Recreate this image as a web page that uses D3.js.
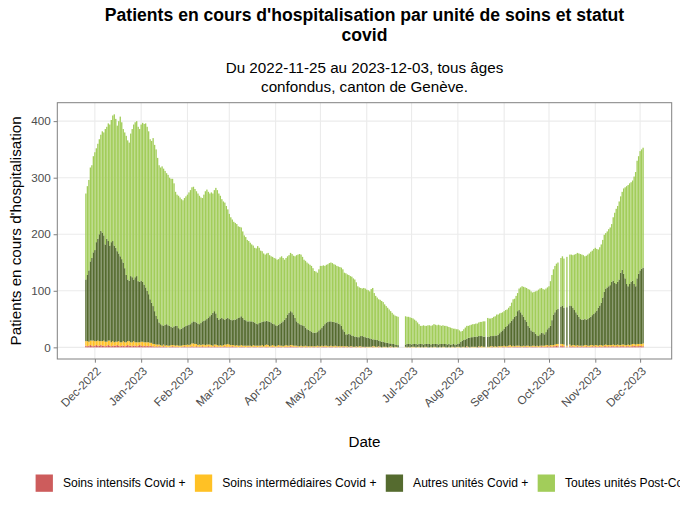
<!DOCTYPE html>
<html>
<head>
<meta charset="utf-8">
<script src="https://cdn.jsdelivr.net/npm/d3@7"></script>
<style>
  body { margin: 0; background: #fff; }
  svg { display: block; font-family: "Liberation Sans", Arial, Helvetica, sans-serif; }
</style>
</head>
<body>
<svg id="chart" width="680" height="510"></svg>
<script>
// one value per day from startDate to endDate, null = no data that day
const startDate = '2022-11-25';
const endDate = '2023-12-03';

const seriesNames = ['Soins intensifs Covid +', 'Soins intermédiaires Covid +', 'Autres unités Covid +', 'Toutes unités Post-Covid +'];
const seriesColors = ['#cd5c5c', '#ffc125', '#556b2f', '#a2cd5a'];

const xTickMonths = ['2022-12-01', '2023-01-01', '2023-02-01', '2023-03-01', '2023-04-01', '2023-05-01', '2023-06-01',
  '2023-07-01', '2023-08-01', '2023-09-01', '2023-10-01', '2023-11-01', '2023-12-01'];
const yTicks = [0, 100, 200, 300, 400];

const soinsIntensifs = [
  3, 2, 3, 4, 3, 2, 3, 4, 3, 3,
  4, 3, 3, 2, 3, 4, 3, 2, 3, 3,
  3, 4, 3, 2, 3, 3, 2, 3, 4, 3,
  3, 2, 3, 3, 2, 3, 4, 3, 2, 3,
  2, 3, 2, 3, 2, 2, 1, 2, 1, 2,
  1, 1, 2, 1, 1, 0, 1, 1, 2, 1,
  1, 1, 1, 0, 1, 1, 2, 1, 1, 1,
  1, 2, 1, 1, 2, 1, 1, 1, 2, 1,
  1, 1, 2, 1, 1, 1, 2, 1, 1, 1,
  1, 1, 1, 2, 1, 1, 1, 1, 2, 1,
  1, 1, 0, 1, 1, 1, 1, 0, 1, 1,
  1, 0, 1, 1, 1, 0, 1, 1, 1, 0,
  1, 1, 1, 0, 1, 1, 1, 0, 1, 1,
  1, 1, 0, 1, 1, 1, 1, 2, 1, 1,
  1, 1, 1, 0, 1, 1, 0, 1, 1, 0,
  1, 0, 1, 1, 0, 1, 1, 0, 1, 1,
  1, 1, 0, 1, 1, 1, 0, 1, 1, 0,
  1, 0, 1, 1, 0, 1, 0, 1, 1, 0,
  0, 1, 0, 0, 1, 0, 0, 1, 0, 0,
  0, 0, 1, 0, 0, 0, 1, 0, 0, 0,
  0, 0, 0, 0, 1, 0, 0, 0, 0, 0,
  null, null, null, null, 0, 0, 0, 0, 0, 0,
  0, 0, 0, 0, 0, 0, 0, 0, 0, 0,
  0, 0, 0, 0, 0, 0, 0, 0, 0, 0,
  0, 0, 0, 0, 0, 0, 0, 0, 0, 0,
  0, 0, 0, 0, 0, 1, 0, 0, 0, 0,
  0, 0, 0, 1, 0, 0, 0, 0, null, 0,
  0, 0, 1, 0, 0, 0, 1, 0, 0, 1,
  1, 0, 1, 1, 1, 0, 1, 1, 1, 1,
  1, 1, 0, 1, 1, 1, 1, 0, 1, 1,
  1, 1, 1, 0, 1, 2, 1, 1, 1, 2,
  1, 2, 1, 2, 2, 3, 2, null, 3, 2,
  2, null, 1, null, 2, 1, 2, 1, 1, 2,
  1, 1, 2, 1, 1, 2, 1, 1, 1, 2,
  1, 2, 1, 1, 2, 1, 1, 2, 2, 1,
  2, 1, 2, 2, 1, 2, 2, 1, 2, 2,
  2, 1, 2, 2, 1, 2, 2, 3, 2, 2,
  2, 3, 2, 2
];

const soinsIntermediaires = [
  8, 9, 7, 8, 9, 10, 8, 7, 9, 8,
  7, 8, 9, 8, 7, 8, 9, 7, 8, 6,
  7, 6, 8, 7, 6, 8, 7, 6, 7, 8,
  6, 7, 8, 6, 7, 6, 5, 7, 8, 6,
  7, 6, 7, 5, 6, 4, 5, 3, 4, 3,
  3, 2, 3, 2, 3, 3, 2, 3, 2, 3,
  2, 3, 2, 3, 2, 3, 2, 3, 4, 3,
  4, 5, 6, 5, 4, 3, 4, 3, 3, 4,
  3, 4, 3, 4, 3, 2, 3, 4, 3, 2,
  3, 2, 3, 3, 4, 5, 4, 3, 2, 3,
  2, 3, 3, 2, 3, 2, 2, 3, 2, 2,
  2, 2, 3, 2, 2, 3, 2, 2, 3, 2,
  3, 4, 3, 2, 2, 3, 2, 2, 2, 3,
  2, 2, 2, 2, 3, 2, 2, 2, 3, 2,
  2, 2, 1, 2, 2, 1, 2, 2, 1, 2,
  1, 2, 1, 1, 2, 2, 1, 2, 2, 1,
  2, 2, 2, 1, 2, 1, 2, 2, 1, 2,
  1, 2, 1, 1, 2, 1, 1, 1, 1, 1,
  1, 1, 1, 2, 1, 1, 1, 0, 1, 1,
  1, 1, 1, 2, 1, 1, 1, 1, 0, 1,
  1, 1, 0, 1, 1, 1, 0, 1, 1, 0,
  null, null, null, null, 1, 0, 1, 0, 1, 1,
  1, 0, 1, 1, 0, 1, 0, 1, 1, 0,
  0, 1, 0, 1, 1, 0, 0, 1, 0, 1,
  1, 0, 0, 1, 0, 1, 1, 0, 1, 1,
  1, 0, 1, 1, 0, 1, 1, 0, 1, 1,
  1, 1, 0, 1, 1, 2, 1, 1, null, 1,
  1, 2, 1, 1, 2, 1, 1, 2, 2, 1,
  2, 2, 1, 2, 3, 2, 2, 1, 2, 2,
  2, 1, 2, 2, 1, 2, 2, 2, 1, 2,
  2, 1, 2, 2, 2, 1, 2, 2, 3, 2,
  2, 2, 3, 2, 3, 3, 4, null, 3, 4,
  3, null, 2, null, 3, 2, 2, 3, 2, 2,
  2, 2, 1, 2, 3, 2, 2, 2, 3, 2,
  2, 2, 3, 2, 2, 3, 2, 2, 3, 3,
  2, 3, 2, 3, 3, 2, 3, 3, 2, 3,
  3, 3, 2, 3, 3, 3, 4, 3, 3, 4,
  4, 3, 4, 5
];

const autresUnites = [
  109, 117, 126, 140, 146, 156, 161, 175, 180, 189,
  195, 192, 186, 172, 182, 176, 168, 177, 177, 171,
  166, 160, 155, 152, 147, 139, 131, 119, 109, 107,
  117, 115, 109, 115, 117, 108, 107, 108, 106, 102,
  97, 91, 85, 77, 71, 67, 58, 51, 45, 39,
  37, 36, 33, 37, 37, 36, 35, 32, 31, 33,
  35, 34, 31, 29, 30, 31, 32, 34, 34, 36,
  36, 37, 39, 39, 38, 38, 36, 39, 41, 42,
  44, 45, 47, 50, 54, 58, 59, 55, 48, 46,
  47, 49, 46, 44, 46, 46, 45, 45, 44, 45,
  46, 46, 49, 50, 51, 49, 46, 45, 43, 43,
  43, 44, 41, 41, 39, 38, 40, 41, 41, 44,
  42, 42, 42, 43, 41, 38, 38, 37, 35, 36,
  39, 41, 44, 46, 48, 55, 58, 60, 58, 55,
  49, 43, 41, 39, 37, 37, 36, 32, 30, 29,
  27, 26, 24, 24, 24, 24, 28, 30, 32, 36,
  38, 41, 43, 44, 43, 43, 43, 41, 42, 40,
  39, 36, 30, 26, 21, 21, 23, 21, 19, 19,
  18, 17, 17, 16, 18, 19, 18, 17, 16, 16,
  15, 14, 12, 12, 12, 12, 10, 10, 10, 9,
  8, 7, 8, 6, 5, 5, 6, 4, 3, 4,
  null, null, null, null, 4, 6, 5, 6, 4, 5,
  5, 6, 4, 5, 6, 5, 5, 5, 5, 6,
  6, 4, 6, 5, 5, 6, 5, 5, 6, 5,
  5, 6, 5, 5, 5, 4, 5, 5, 4, 5,
  6, 10, 11, 12, 14, 13, 16, 17, 17, 17,
  18, 18, 19, 18, 19, 18, 18, 18, null, 18,
  18, 18, 18, 19, 19, 20, 20, 23, 26, 28,
  30, 34, 36, 38, 40, 45, 47, 52, 53, 61,
  63, 60, 56, 51, 47, 42, 35, 33, 28, 25,
  24, 22, 18, 18, 20, 23, 22, 20, 23, 28,
  32, 34, 44, 54, 57, 60, 62, null, 66, 68,
  65, null, 68, null, 69, 70, 66, 62, 59, 54,
  51, 47, 46, 46, 46, 45, 47, 49, 50, 53,
  56, 58, 61, 67, 70, 75, 85, 94, 99, 102,
  104, 106, 112, 113, 110, 108, 111, 116, 128, 132,
  125, 118, 108, 103, 108, 111, 112, 106, 103, 116,
  124, 130, 133, 134
];

const postCovid = [
  152, 157, 160, 166, 164, 170, 173, 166, 168, 168,
  170, 179, 182, 204, 198, 208, 214, 216, 222, 232,
  228, 222, 234, 247, 242, 236, 240, 246, 246, 244,
  252, 262, 274, 274, 274, 273, 270, 276, 281, 284,
  290, 290, 288, 283, 286, 297, 294, 294, 285, 278,
  277, 281, 278, 272, 267, 266, 262, 262, 263, 253,
  237, 232, 234, 233, 229, 225, 228, 229, 231, 234,
  237, 239, 238, 235, 232, 230, 227, 222, 218, 223,
  228, 229, 223, 217, 216, 211, 214, 222, 226, 223,
  217, 210, 208, 207, 199, 192, 186, 181, 178, 173,
  171, 168, 162, 160, 157, 153, 149, 147, 144, 142,
  139, 136, 135, 132, 133, 138, 133, 127, 125, 120,
  118, 119, 121, 118, 117, 118, 117, 118, 117, 116,
  117, 117, 112, 106, 106, 103, 102, 103, 103, 104,
  109, 117, 121, 124, 124, 121, 117, 118, 118, 117,
  117, 116, 114, 109, 108, 105, 108, 112, 109, 107,
  103, 102, 102, 103, 104, 104, 102, 102, 100, 101,
  101, 103, 106, 104, 108, 106, 104, 103, 104, 102,
  101, 96, 90, 88, 85, 84, 86, 86, 85, 84,
  83, 88, 91, 82, 78, 75, 73, 73, 72, 70,
  67, 65, 62, 60, 57, 55, 52, 51, 51, 50,
  null, null, null, null, 50, 48, 48, 47, 47, 45,
  43, 41, 39, 35, 32, 32, 34, 32, 32, 33,
  33, 33, 33, 35, 34, 33, 35, 33, 32, 33,
  32, 32, 32, 30, 30, 29, 27, 28, 27, 26,
  23, 18, 17, 19, 21, 23, 21, 22, 22, 23,
  22, 23, 23, 24, 25, 25, 27, 27, null, 33,
  32, 31, 32, 34, 34, 37, 36, 35, 33, 32,
  31, 30, 29, 29, 29, 32, 35, 32, 35, 32,
  38, 44, 50, 53, 57, 60, 65, 67, 69, 69,
  71, 75, 79, 82, 81, 79, 78, 79, 77, 74,
  73, 79, 80, 80, 82, 82, 82, null, 86, 87,
  87, null, 89, null, 90, 91, 93, 98, 103, 109,
  112, 115, 115, 114, 111, 113, 114, 114, 115, 114,
  115, 114, 109, 103, 103, 103, 102, 101, 98, 99,
  101, 102, 102, 112, 124, 133, 134, 138, 135, 138,
  151, 161, 173, 179, 178, 176, 177, 190, 202, 208,
  208, 211, 211, 212
];

const W = 680, H = 510;
const panel = { left: 57.3, right: 671.7, top: 102.7, bottom: 359 };
const centerX = (panel.left + panel.right) / 2;

const svg = d3.select('#chart');
svg.append('rect').attr('width', W).attr('height', H).attr('fill', '#fff');

const parse = d3.timeParse('%Y-%m-%d');
const days = d3.timeDay.range(parse(startDate), d3.timeDay.offset(parse(endDate), 1));
const keys = ['icu', 'imc', 'autres', 'post'];

const rows = days.map((date, i) => ({
  date,
  icu: soinsIntensifs[i],
  imc: soinsIntermediaires[i],
  autres: autresUnites[i],
  post: postCovid[i]
})).filter(r => r.icu != null);

const stacked = d3.stack().keys(keys)(rows);

// ggplot-like 5% expansion around the bars
const dayMs = 864e5;
const lo = +days[0] - 0.45 * dayMs, hi = +days[days.length - 1] + 0.45 * dayMs;
const padX = (hi - lo) * 0.05;
const x = d3.scaleTime()
  .domain([new Date(lo - padX), new Date(hi + padX)])
  .range([panel.left, panel.right]);

const maxTotal = d3.max(rows, r => r.icu + r.imc + r.autres + r.post);
const y = d3.scaleLinear()
  .domain([-0.05 * maxTotal, 1.05 * maxTotal])
  .range([panel.bottom, panel.top]);

const barW = x(new Date(+days[0] + 0.9 * dayMs)) - x(days[0]);
const monthDates = xTickMonths.map(parse);

// grid
const grid = svg.append('g');
grid.selectAll('line.v')
  .data(monthDates)
  .join('line')
  .attr('x1', d => x(d)).attr('x2', d => x(d))
  .attr('y1', panel.top).attr('y2', panel.bottom)
  .attr('stroke', '#ebebeb').attr('stroke-width', 1.1);
grid.selectAll('line.h')
  .data(yTicks)
  .join('line')
  .attr('x1', panel.left).attr('x2', panel.right)
  .attr('y1', d => y(d)).attr('y2', d => y(d))
  .attr('stroke', '#ebebeb').attr('stroke-width', 1.1);

// bars
svg.append('g')
  .selectAll('g')
  .data(stacked)
  .join('g')
  .attr('fill', (d, i) => seriesColors[i])
  .selectAll('rect')
  .data(d => d)
  .join('rect')
  .attr('x', d => x(d.data.date) - barW / 2)
  .attr('width', barW)
  .attr('y', d => y(d[1]))
  .attr('height', d => y(d[0]) - y(d[1]));

// panel border
svg.append('rect')
  .attr('x', panel.left).attr('y', panel.top)
  .attr('width', panel.right - panel.left).attr('height', panel.bottom - panel.top)
  .attr('fill', 'none').attr('stroke', '#808080').attr('stroke-width', 1);

const tickLen = 3.7;

// x axis
const xAxis = svg.append('g')
  .attr('transform', `translate(0,${panel.bottom})`)
  .call(d3.axisBottom(x).tickValues(monthDates).tickFormat(d3.timeFormat('%b-%Y')).tickSize(tickLen));
xAxis.select('.domain').remove();
xAxis.selectAll('line').attr('stroke', '#808080');
xAxis.selectAll('text')
  .attr('x', 0).attr('y', 0).attr('dy', '0.75em')
  .attr('transform', `translate(0,${tickLen + 3}) rotate(-45)`)
  .attr('text-anchor', 'end')
  .attr('fill', '#4d4d4d')
  .style('font-size', '11.7px')
  .style('font-family', '"Liberation Sans", Arial, sans-serif');

// y axis
const yAxis = svg.append('g')
  .attr('transform', `translate(${panel.left},0)`)
  .call(d3.axisLeft(y).tickValues(yTicks).tickSize(tickLen));
yAxis.select('.domain').remove();
yAxis.selectAll('line').attr('stroke', '#808080');
yAxis.selectAll('text')
  .attr('x', -(tickLen + 2.9))
  .attr('fill', '#4d4d4d')
  .style('font-size', '11.7px')
  .style('font-family', '"Liberation Sans", Arial, sans-serif');

// titles
const title = svg.append('g').attr('text-anchor', 'middle');
title.append('text').attr('x', centerX).attr('y', 21)
  .style('font-size', '17.6px').style('font-weight', 'bold')
  .text("Patients en cours d'hospitalisation par unité de soins et statut");
title.append('text').attr('x', centerX).attr('y', 40.5)
  .style('font-size', '17.6px').style('font-weight', 'bold')
  .text('covid');
title.append('text').attr('x', centerX).attr('y', 72.5)
  .style('font-size', '15.2px')
  .text('Du 2022-11-25 au 2023-12-03, tous âges');
title.append('text').attr('x', centerX).attr('y', 91.5)
  .style('font-size', '15.2px')
  .text('confondus, canton de Genève.');

svg.append('text')
  .attr('transform', `translate(21,${(panel.top + panel.bottom) / 2}) rotate(-90)`)
  .attr('text-anchor', 'middle')
  .style('font-size', '15.2px')
  .text("Patients en cours d'hospitalisation");

svg.append('text')
  .attr('x', centerX).attr('y', 446.5)
  .attr('text-anchor', 'middle')
  .style('font-size', '15.2px')
  .text('Date');

// legend
const legend = svg.append('g');
let lx = 35.6;
seriesNames.forEach((name, i) => {
  legend.append('rect')
    .attr('x', lx).attr('y', 474.5)
    .attr('width', 17.3).attr('height', 17.3)
    .attr('fill', seriesColors[i]);
  const t = legend.append('text')
    .attr('x', lx + 27.3).attr('y', 487.3)
    .style('font-size', '12.1px')
    .text(name);
  lx += 27.3 + t.node().getComputedTextLength() + 9.3;
});
</script>
</body>
</html>
